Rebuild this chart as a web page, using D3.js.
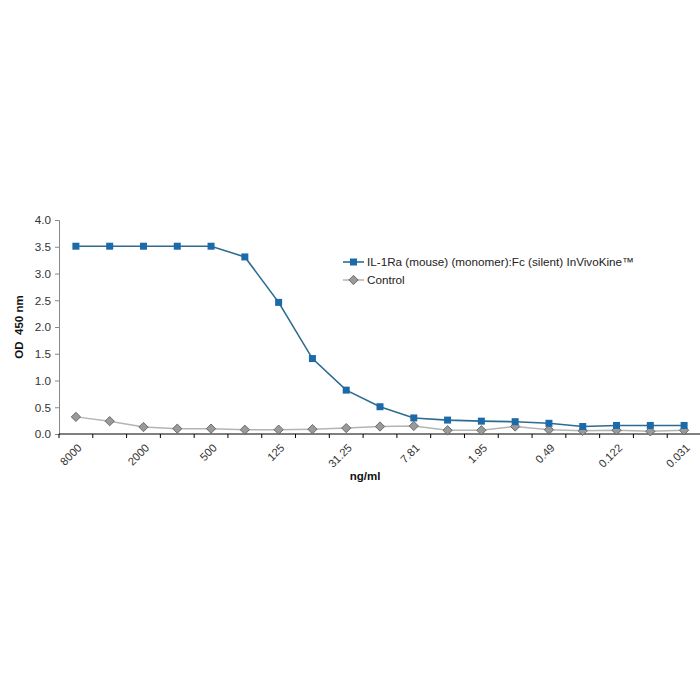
<!DOCTYPE html>
<html><head><meta charset="utf-8">
<script src="https://cdn.jsdelivr.net/npm/d3@7"></script>
<style>body{margin:0;background:#fff;}text{font-family:Arial,"Liberation Sans",sans-serif;}</style>
</head><body><svg id="c" width="700" height="700"></svg>
<script>
const categories = ["8000","4000","2000","1000","500","250","125","62.5","31.25","15.63","7.81","3.91","1.95","0.98","0.49","0.24","0.122","0.061","0.031"];
const tickLabels = ["8000","","2000","","500","","125","","31.25","","7.81","","1.95","","0.49","","0.122","","0.031"];
const il1ra = [3.51,3.51,3.51,3.51,3.51,3.31,2.46,1.41,0.82,0.51,0.30,0.26,0.24,0.23,0.20,0.14,0.16,0.16,0.16];
const control = [0.32,0.24,0.13,0.10,0.10,0.08,0.08,0.09,0.11,0.14,0.15,0.07,0.07,0.14,0.08,0.06,0.07,0.05,0.07];
const yTicks = [0,0.5,1,1.5,2,2.5,3,3.5,4];
const seriesNames = ["IL-1Ra (mouse) (monomer):Fc (silent) InVivoKine\u2122","Control"];

const svg = d3.select("#c");
const x = d3.scaleBand().domain(categories).range([59,701]).padding(0);
const y = d3.scaleLinear().domain([0,4]).range([434,220]);

// y axis
const ya = svg.append("g").attr("transform","translate(59,0)")
  .call(d3.axisLeft(y).tickValues(yTicks).tickFormat(d3.format(".1f")).tickSize(4).tickPadding(4));
ya.select(".domain").attr("stroke","#888");
ya.selectAll(".tick line").attr("stroke","#888");
ya.selectAll(".tick text").attr("font-size",11.7).attr("fill","#333");

// x axis
const xa = svg.append("g").attr("transform","translate(0,434)");
xa.append("line").attr("x1",59).attr("x2",701).attr("stroke","#000");
const bounds = categories.map(c=>x(c)).concat([x(categories[categories.length-1])+x.bandwidth()]);
xa.selectAll("line.t").data(bounds).join("line").attr("class","t")
  .attr("x1",d=>d).attr("x2",d=>d).attr("y1",0).attr("y2",4).attr("stroke","#000");
xa.selectAll("text").data(categories).join("text")
  .attr("transform",d=>`translate(${x(d)+x.bandwidth()/2+1},${9}) rotate(-45)`)
  .attr("text-anchor","end").attr("dy","0.7em").attr("font-size",11.2).attr("fill","#333")
  .text((d,i)=>tickLabels[i]);

// titles
svg.append("text").attr("x",365).attr("y",480).attr("text-anchor","middle")
  .attr("font-size",11.5).attr("font-weight","bold").attr("fill","#111").text("ng/ml");
svg.append("text").attr("transform","translate(23,327) rotate(-90)").attr("text-anchor","middle")
  .attr("font-size",11.5).attr("font-weight","bold").attr("fill","#111").attr("xml:space","preserve").text("OD  450 nm");

const cx = d=>x(d)+x.bandwidth()/2;
const line = d3.line().x((d,i)=>cx(categories[i])).y(d=>y(d));

// control
svg.append("path").datum(control).attr("d",line).attr("fill","none").attr("stroke","#b4b4b4").attr("stroke-width",1.5);
const diamond = d3.symbol().type(d3.symbolDiamond2).size(55);
svg.selectAll("path.ctl").data(control).join("path").attr("class","ctl")
  .attr("d",diamond).attr("transform",(d,i)=>`translate(${cx(categories[i])},${y(d)})`)
  .attr("fill","#9a9a9a").attr("stroke","#555").attr("stroke-width",0.8);

// il1ra
svg.append("path").datum(il1ra).attr("d",line).attr("fill","none").attr("stroke","#2d6c90").attr("stroke-width",1.6);
svg.selectAll("rect.il").data(il1ra).join("rect").attr("class","il")
  .attr("x",(d,i)=>cx(categories[i])-3.5).attr("y",d=>y(d)-3.5).attr("width",7).attr("height",7)
  .attr("fill","#1c6aaa");

// legend
const lg = svg.append("g");
lg.append("line").attr("x1",343).attr("x2",364).attr("y1",262).attr("y2",262).attr("stroke","#2d6c90").attr("stroke-width",1.6);
lg.append("rect").attr("x",350).attr("y",258.5).attr("width",7).attr("height",7).attr("fill","#1c6aaa");
lg.append("text").attr("x",367).attr("y",262).attr("dy","0.35em").attr("font-size",11.7).attr("fill","#222").text(seriesNames[0]);
lg.append("line").attr("x1",343).attr("x2",364).attr("y1",280).attr("y2",280).attr("stroke","#b4b4b4").attr("stroke-width",1.5);
lg.append("path").attr("d",diamond).attr("transform","translate(353.5,280)").attr("fill","#9a9a9a").attr("stroke","#555").attr("stroke-width",0.8);
lg.append("text").attr("x",367).attr("y",280).attr("dy","0.35em").attr("font-size",11.7).attr("fill","#222").text(seriesNames[1]);
</script></body></html>
